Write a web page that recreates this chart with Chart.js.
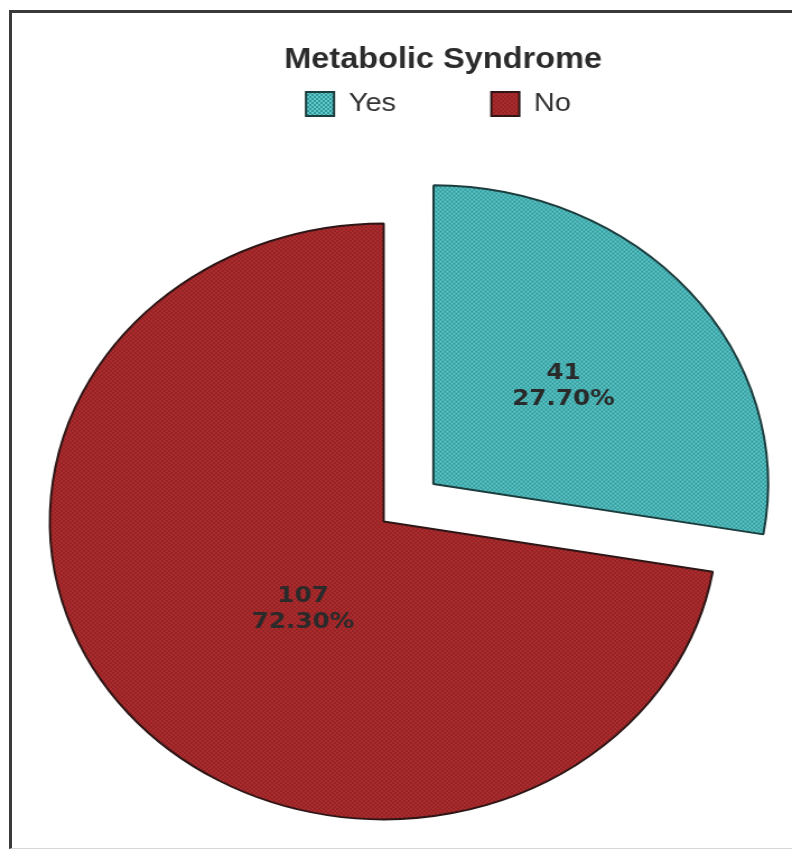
<!DOCTYPE html>
<html>
<head>
<meta charset="utf-8">
<title>Metabolic Syndrome</title>
<script src="https://cdn.jsdelivr.net/npm/chart.js@4.4.1/dist/chart.umd.min.js"></script>
<style>
body{margin:0;background:#fff}
#wrap{position:relative;width:792px;height:854px;overflow:hidden}
#frame{position:absolute;left:9px;top:10px;width:800px;height:835px;border-left:3px solid #3a3a3a;border-top:3px solid #3a3a3a;border-bottom:1px solid #d6d6d6}
#pie{position:absolute;left:0;top:0}
</style>
</head>
<body>
<div id="wrap">
<div id="frame"></div>
<canvas id="pie" width="707" height="854" style="width:792px;height:854px"></canvas>
</div>
<script>
const chartTitle="Metabolic Syndrome"
const labels=["Yes","No"]
const counts=[41,107]
const total=counts.reduce((a,b)=>a+b,0)

// dotted fill like the SPSS pattern
function dotted(base,dot){
const c=document.createElement("canvas")
c.width=4;c.height=4
const g=c.getContext("2d")
g.fillStyle=base;g.fillRect(0,0,4,4)
g.fillStyle=dot;g.fillRect(0,0,2,2);g.fillRect(2,2,2,2)
return g.createPattern(c,"repeat")
}
const fills=[dotted("#5fcaca","#33979a"),dotted("#ac2c2e","#952326")]

// where the value text sits inside each slice (fraction along the arc, fraction of radius)
const labelSpot=[{along:0.5,r:0.51},{along:0.46,r:0.38}]

const sliceLabels={
id:"sliceLabels",
afterDatasetsDraw(chart){
const ctx=chart.ctx
const meta=chart.getDatasetMeta(0)
meta.data.forEach((arc,i)=>{
const p=arc.getProps(["x","y","startAngle","endAngle","outerRadius"],true)
const mid=(p.startAngle+p.endAngle)/2
// chart.js v4 moves an arc by offset/4
const off=(arc.options.offset||0)/4
const a=p.startAngle+(p.endAngle-p.startAngle)*labelSpot[i].along
const cx=p.x+Math.cos(mid)*off+Math.cos(a)*p.outerRadius*labelSpot[i].r
const cy=p.y+Math.sin(mid)*off+Math.sin(a)*p.outerRadius*labelSpot[i].r
const pct=(counts[i]/total*100).toFixed(2)+"%"
ctx.save()
ctx.font="bold 22px 'DejaVu Sans'"
ctx.fillStyle="#2a2a2a"
ctx.textAlign="center"
ctx.textBaseline="middle"
ctx.fillText(String(counts[i]),cx,cy-13)
ctx.fillText(pct,cx,cy+13)
ctx.restore()
})
}
}

// title and legend sit right of the pie's centre in the original
const shiftBoxes={
id:"shiftBoxes",
afterLayout(chart){
const t=chart.titleBlock,l=chart.legend
t.left+=53;t.right+=53
l.left+=49;l.right+=49
l.top=6;l.bottom=l.top+l.height
}
}

new Chart(document.getElementById("pie"),{
type:"pie",
data:{
labels:labels,
datasets:[{
data:counts,
backgroundColor:fills,
borderColor:["#1c3c3d","#2e1616"],
borderWidth:2,
offset:[232,0],
radius:298
}]
},
options:{
responsive:false,
animation:false,
events:[],
layout:{padding:{top:0,left:0,right:22,bottom:10}},
plugins:{
title:{
display:true,
text:chartTitle,
color:"#2c2c2c",
font:{family:"'Liberation Sans', Arial, sans-serif",size:29,weight:"bold"},
padding:{top:43,bottom:0}
},
legend:{
position:"top",
labels:{
color:"#333",
font:{family:"'Liberation Sans', Arial, sans-serif",size:26},
boxWidth:25,
boxHeight:24,
padding:85
}
},
tooltip:{enabled:false}
}
},
plugins:[sliceLabels,shiftBoxes]
})
</script>
</body>
</html>
